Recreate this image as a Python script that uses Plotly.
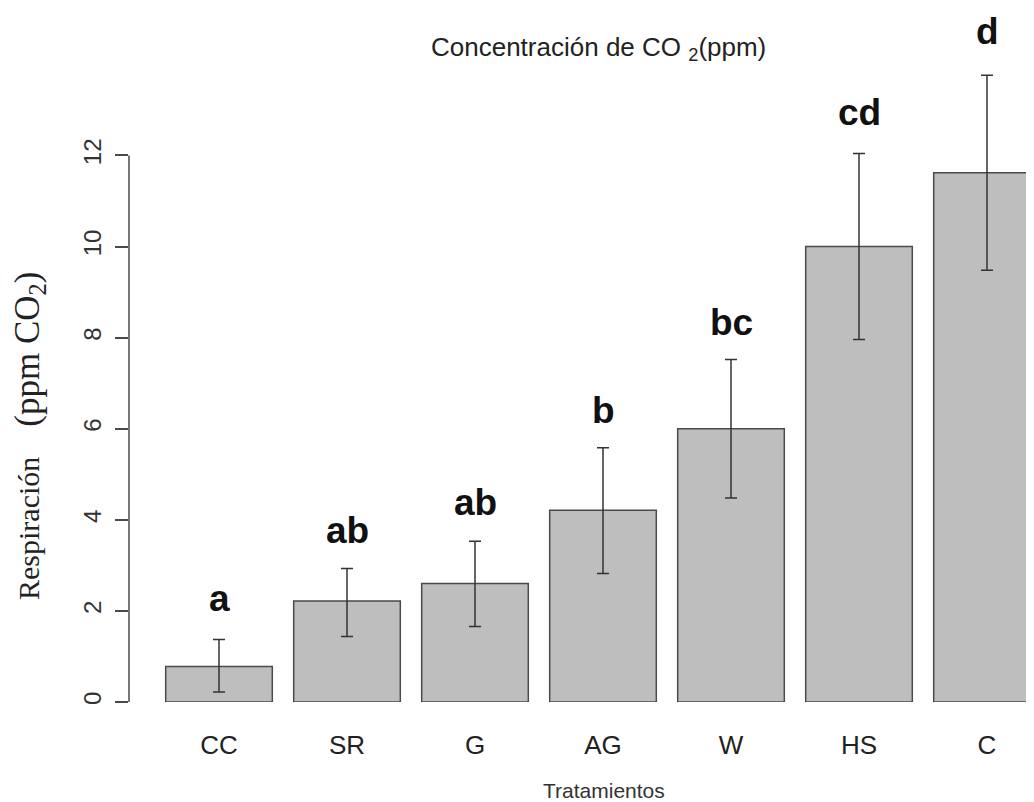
import plotly.graph_objects as go

categories = ["CC", "SR", "G", "AG", "W", "HS", "C"]
means = [0.78, 2.22, 2.60, 4.21, 6.00, 10.00, 11.62]
err_hi = [1.37, 2.93, 3.53, 5.58, 7.52, 12.04, 13.76]
err_lo = [0.22, 1.44, 1.66, 2.82, 4.48, 7.96, 9.48]
letters = ["a", "ab", "ab", "b", "bc", "cd", "d"]
letter_y = [2.27, 3.77, 4.39, 6.40, 8.34, 12.95, 14.71]
y_ticks = [0, 2, 4, 6, 8, 10, 12]

# The page body has an 8px margin; work in screen pixels and convert.
OFF = 8
W, H = 1034 - 2 * OFF, 802 - OFF
ML = 129 - OFF
MR = 0
MT = 0
MB = H - (702 - OFF)
PX_PER_UNIT_X = 128.0
PX_PER_UNIT_Y = 45.55
x0_px = 219 - OFF  # figure pixel of first bar centre

plot_w = W - ML - MR
plot_h = H - MT - MB
x_range = [(ML - x0_px) / PX_PER_UNIT_X, (W - MR - x0_px) / PX_PER_UNIT_X]
y_range = [0, plot_h / PX_PER_UNIT_Y]

up = [h - m for h, m in zip(err_hi, means)]
dn = [m - l for m, l in zip(means, err_lo)]

fig = go.Figure()
fig.add_trace(go.Bar(
    x=categories, y=means, width=0.833,
    marker=dict(color="#bebebe", line=dict(color="#4a4a4a", width=1.5)),
    error_y=dict(type="data", array=up, arrayminus=dn, visible=True,
                 color="#333333", thickness=1.5, width=6),
    hoverinfo="skip",
))

for c, t, yy in zip(categories, letters, letter_y):
    fig.add_annotation(x=c, y=yy, text="<b>" + t + "</b>", showarrow=False, xref="x", yref="y",
                       font=dict(family="Arial, Liberation Sans", size=37, color="#111111"),
                       xanchor="center", yanchor="middle")


def px_x(p):
    return (p - OFF - ML) / plot_w


def px_y(p):
    return (H - MB - (p - OFF)) / plot_h


fig.add_annotation(x=px_x(598), y=px_y(48), xref="paper", yref="paper",
                   text="Concentración de CO <sub>2</sub>(ppm)", showarrow=False,
                   font=dict(family="Arial, Liberation Sans", size=26, color="#222222"),
                   xanchor="center", yanchor="middle")
fig.add_annotation(x=px_x(604), y=px_y(790), xref="paper", yref="paper",
                   text="Tratamientos", showarrow=False,
                   font=dict(family="Arial, Liberation Sans", size=21, color="#333333"),
                   xanchor="center", yanchor="middle")
fig.add_annotation(x=px_x(30), y=px_y(436), xref="paper", yref="paper",
                   text="Respiración\u00a0\u00a0\u00a0\u00a0<span style='font-size:35px'>(ppm CO<sub>2</sub>)</span>",
                   showarrow=False, textangle=-90,
                   font=dict(family="Liberation Serif, Times New Roman, serif", size=30, color="#222222"),
                   xanchor="center", yanchor="middle")

# y axis line only from 0 to 12
fig.add_shape(type="line", xref="paper", yref="y", x0=0, x1=0, y0=y_ticks[0], y1=y_ticks[-1],
              line=dict(color="#4a4a4a", width=1.5))

fig.update_layout(
    width=W, height=H,
    margin=dict(l=ML, r=MR, t=MT, b=MB, autoexpand=False),
    paper_bgcolor="white", plot_bgcolor="white",
    showlegend=False,
    xaxis=dict(type="category", range=x_range, showgrid=False, zeroline=False,
               showline=False, ticks="",
               tickfont=dict(family="Arial, Liberation Sans", size=26, color="#222222"),
               ticklabelstandoff=25),
    yaxis=dict(range=y_range, tickvals=y_ticks, showgrid=False, zeroline=False,
               showline=False, ticks="outside", ticklen=13, tickwidth=1.5,
               tickcolor="#4a4a4a", tickangle=-90,
               tickfont=dict(family="Arial, Liberation Sans", size=24, color="#333333"),
               ticklabelstandoff=4),
)

fig.write_html("out.html")
